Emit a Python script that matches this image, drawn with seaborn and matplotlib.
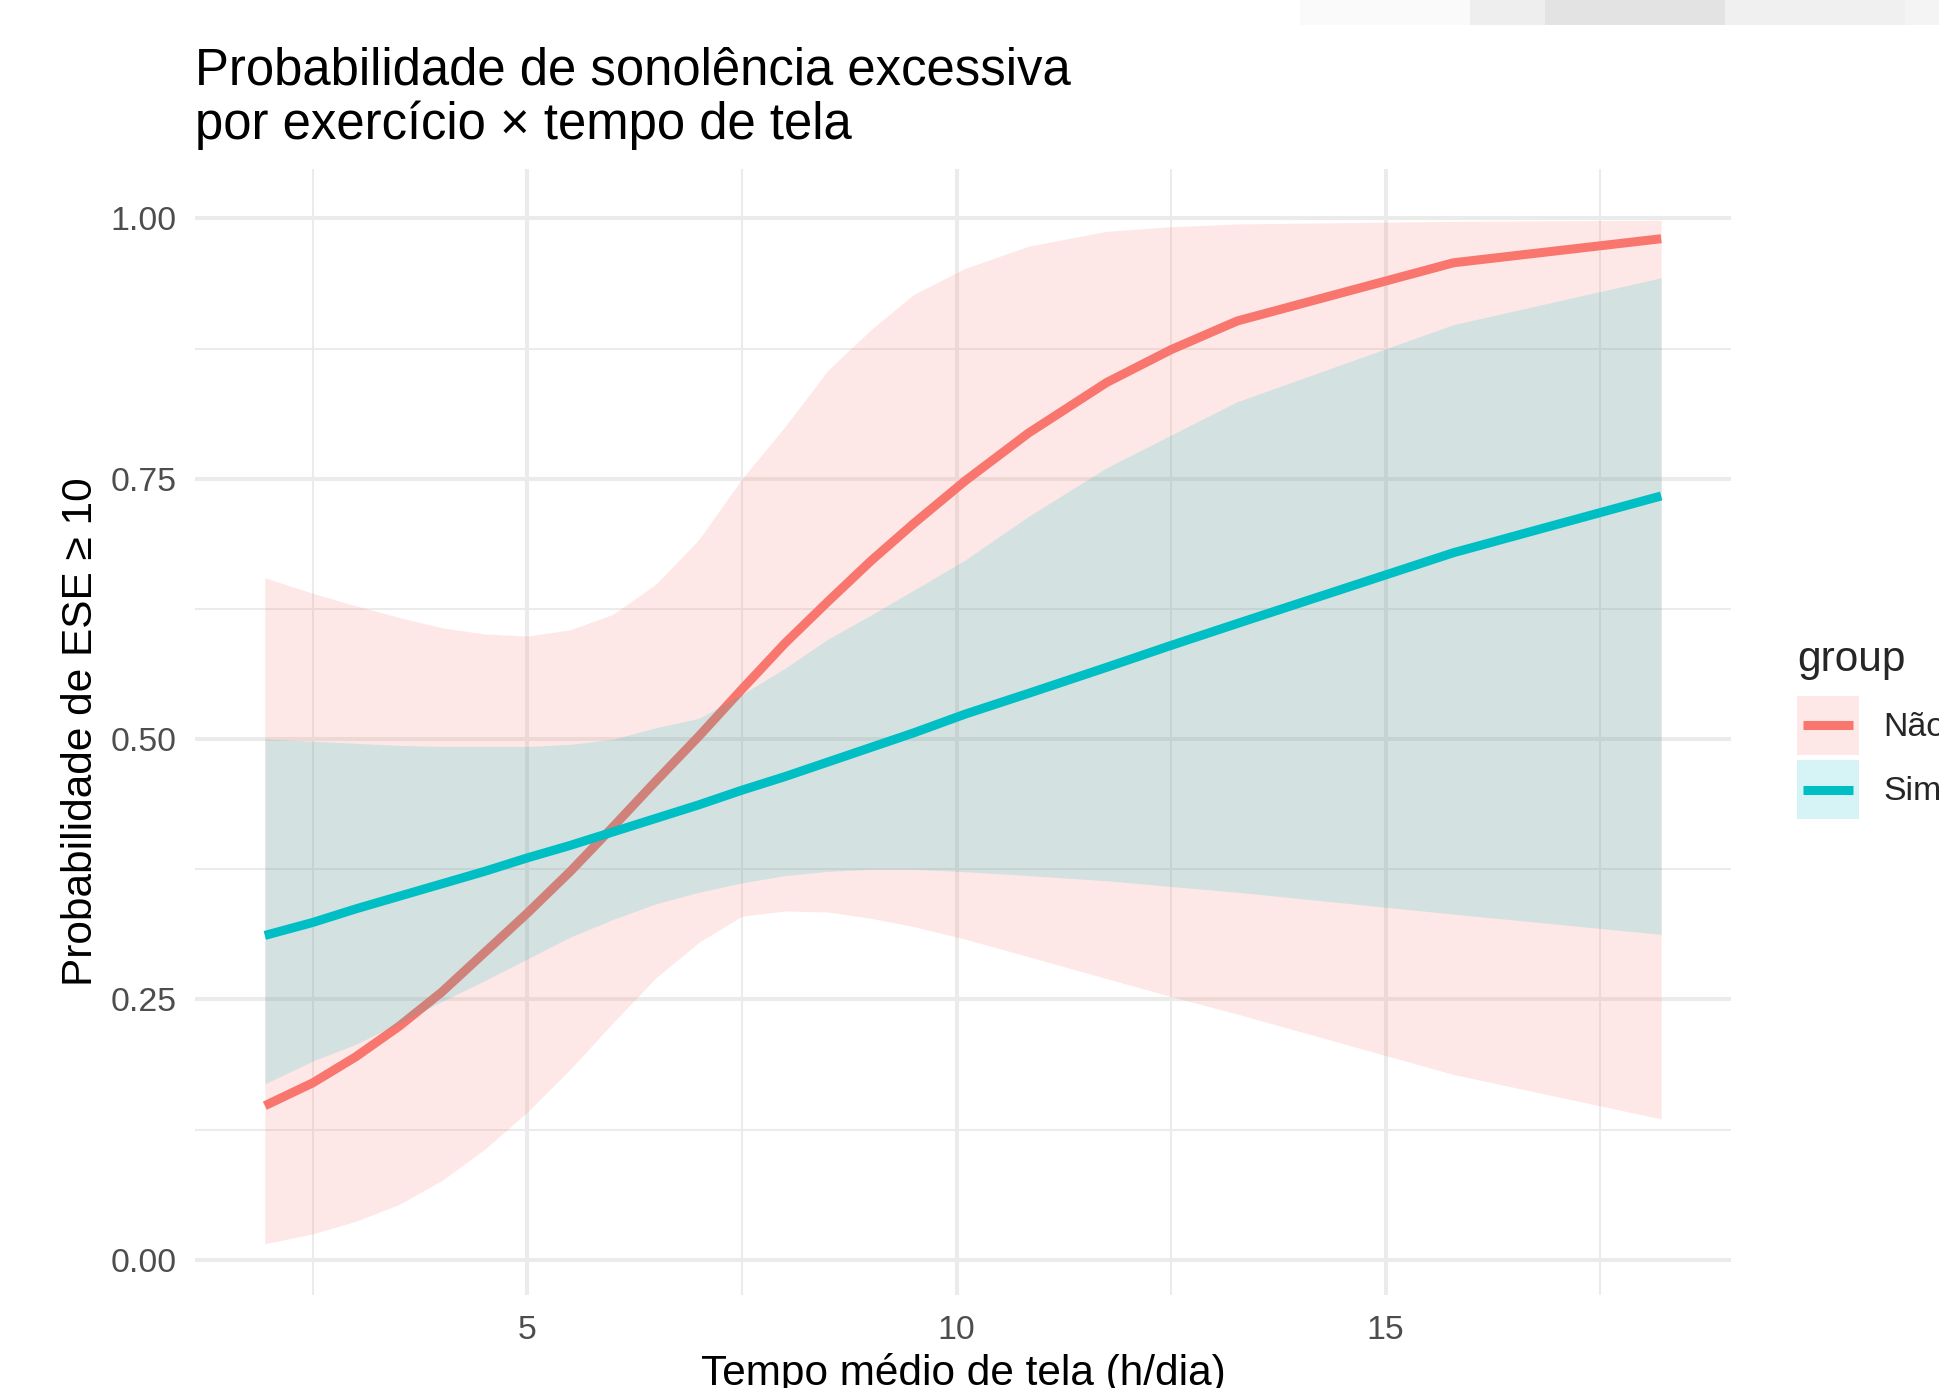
import numpy as np
import pandas as pd
import matplotlib
matplotlib.use("Agg")
import matplotlib.pyplot as plt
from matplotlib.patches import Patch, Rectangle
from matplotlib.lines import Line2D
from matplotlib.legend_handler import HandlerTuple, HandlerLine2D
import seaborn as sns

# ---------------- data ----------------
screen_time = [1.94, 2.5, 3.0, 3.5, 4.0, 4.5, 5.0, 5.5, 6.0, 6.5, 7.0, 7.5, 8.0,
               8.5, 9.0, 9.5, 10.1, 10.84, 11.75, 12.5, 13.27, 15.79, 18.21]

nao_fit = [0.148, 0.170, 0.195, 0.224, 0.257, 0.295, 0.333, 0.373, 0.416, 0.460,
           0.503, 0.548, 0.592, 0.632, 0.671, 0.707, 0.748, 0.794, 0.8425, 0.874,
           0.9015, 0.9574, 0.9805]
nao_high = [0.655, 0.640, 0.628, 0.617, 0.607, 0.601, 0.599, 0.605, 0.620, 0.649,
            0.692, 0.750, 0.800, 0.854, 0.893, 0.927, 0.952, 0.9734, 0.9876, 0.992,
            0.9947, 0.9972, 0.9983]
nao_low = [0.0154, 0.025, 0.037, 0.053, 0.076, 0.106, 0.142, 0.183, 0.228, 0.271,
           0.305, 0.330, 0.335, 0.334, 0.328, 0.320, 0.308, 0.291, 0.270, 0.2528,
           0.236, 0.178, 0.1353]

sim_fit = [0.3115, 0.324, 0.337, 0.349, 0.361, 0.373, 0.386, 0.398, 0.411, 0.424,
           0.437, 0.451, 0.464, 0.478, 0.492, 0.506, 0.524, 0.544, 0.569, 0.590,
           0.611, 0.679, 0.7335]
sim_high = [0.5003, 0.498, 0.496, 0.494, 0.493, 0.493, 0.493, 0.495, 0.500, 0.511,
            0.520, 0.543, 0.568, 0.596, 0.619, 0.643, 0.672, 0.714, 0.7607, 0.792,
            0.824, 0.898, 0.943]
sim_low = [0.169, 0.191, 0.207, 0.227, 0.248, 0.268, 0.289, 0.310, 0.327, 0.342,
           0.353, 0.362, 0.369, 0.373, 0.375, 0.375, 0.3727, 0.369, 0.364, 0.3585,
           0.353, 0.332, 0.3125]

groups = ["Não", "Sim"]
colors = {"Não": "#F8766D", "Sim": "#00BFC4"}

title_text = "Probabilidade de sonolência excessiva\npor exercício × tempo de tela"
x_label = "Tempo médio de tela (h/dia)"
y_label = "Probabilidade de ESE ≥ 10"
legend_title = "group"
x_ticks = [5, 10, 15]
y_ticks = [0.00, 0.25, 0.50, 0.75, 1.00]

df = pd.concat([
    pd.DataFrame({"x": screen_time, "fit": nao_fit, "lo": nao_low, "hi": nao_high, "group": "Não"}),
    pd.DataFrame({"x": screen_time, "fit": sim_fit, "lo": sim_low, "hi": sim_high, "group": "Sim"}),
], ignore_index=True)

# ---------------- style ----------------
sns.set_theme(style="white")
FAM = ["Liberation Sans", "DejaVu Sans"]
plt.rcParams["font.family"] = FAM

BASE = 30.5          # axis titles / legend title
TICK = BASE * 0.8    # tick labels / legend labels
TITLE = BASE * 1.2
LW = 6.5
ALPHA = 0.16

W, H = 1939, 1388
fig = plt.figure(figsize=(W / 100, H / 100), dpi=100)
fig.patch.set_facecolor("white")

ax = fig.add_axes([195 / W, 1 - 1295 / H, (1731 - 195) / W, (1295 - 169) / H])
ax.set_facecolor("white")

z = 3
for g in groups:
    sub = df[df["group"] == g]
    ax.fill_between(sub["x"], sub["lo"], sub["hi"], color=colors[g], alpha=ALPHA,
                    linewidth=0, zorder=z)
    sns.lineplot(data=sub, x="x", y="fit", color=colors[g], linewidth=LW,
                 ax=ax, zorder=z + 1, legend=False, estimator=None, sort=False,
                 solid_capstyle="butt", solid_joinstyle="round")
    z += 2

xr = df["x"].max() - df["x"].min()
ax.set_xlim(df["x"].min() - 0.05 * xr, df["x"].max() + 0.05 * xr)
yr = df["hi"].max() - df["lo"].min()
ax.set_ylim(df["lo"].min() - 0.05 * yr, df["hi"].max() + 0.05 * yr)

ax.set_xticks(x_ticks)
ax.set_yticks(y_ticks)
ax.set_yticklabels([f"{v:.2f}" for v in y_ticks])
ax.set_xticks([2.5, 7.5, 12.5, 17.5], minor=True)
ax.set_yticks([0.125, 0.375, 0.625, 0.875], minor=True)
ax.grid(True, which="major", color="#EBEBEB", linewidth=2.9, zorder=0)
ax.grid(True, which="minor", color="#EBEBEB", linewidth=1.5, zorder=0)
ax.set_axisbelow(True)
for s in ax.spines.values():
    s.set_visible(False)
ax.tick_params(which="both", length=0)
ax.tick_params(axis="y", labelsize=TICK, labelcolor="#4D4D4D", pad=13)
ax.tick_params(axis="x", labelsize=TICK, labelcolor="#4D4D4D", pad=14.5)

ax.set_xlabel(x_label, fontsize=BASE, color="black", labelpad=5)
ax.set_ylabel(y_label, fontsize=BASE, color="black", labelpad=7)
ax.set_title("")

fig.text(195 / W, 1 - 46.5 / H, title_text, fontsize=TITLE, color="black",
         ha="left", va="top", linespacing=1.12, family=FAM)


class CenteredLine(HandlerLine2D):
    """Legend key line centred vertically in the key box, slightly inset."""
    def create_artists(self, legend, orig_handle, xdescent, ydescent, width,
                       height, fontsize, trans):
        arts = super().create_artists(legend, orig_handle, xdescent, ydescent,
                                      width, height, fontsize, trans)
        inset = 4.3
        for a in arts:
            if isinstance(a, Line2D) and len(a.get_xdata()) > 1:
                a.set_xdata([-xdescent + inset, -xdescent + width - inset])
                a.set_ydata([height / 2 - ydescent] * 2)
        return arts


handles = [
    (Patch(facecolor=colors[g], alpha=ALPHA, edgecolor="none"),
     Line2D([0], [0], color=colors[g], linewidth=LW, solid_capstyle="butt"))
    for g in groups
]
leg = fig.legend(handles, groups,
                 handler_map={tuple: HandlerTuple(ndivide=1, pad=0),
                              Line2D: CenteredLine(numpoints=2)},
                 title=legend_title, loc="upper left",
                 bbox_to_anchor=(1797 / W, 1 - 640 / H),
                 frameon=False, fontsize=TICK, title_fontsize=BASE,
                 handlelength=1.83, handleheight=2.3, labelspacing=0.15,
                 handletextpad=0.71, borderaxespad=0, borderpad=0)
leg._legend_box.align = "left"
leg._legend_box.sep = 11.5

# faint grey strip at the very top (screenshot artefact)
for x0, x1, c in [(1300, 1470, "#FAFAFA"), (1470, 1545, "#EEEEEE"), (1545, 1725, "#E3E3E3"),
                  (1725, 1905, "#EFF0EF"), (1905, 1939, "#F4F4F4")]:
    fig.patches.append(Rectangle((x0 / W, 1 - 25 / H), (x1 - x0) / W, 25 / H,
                                 transform=fig.transFigure, facecolor=c,
                                 edgecolor="none", zorder=-1))

fig.savefig("out.png", dpi=100)
